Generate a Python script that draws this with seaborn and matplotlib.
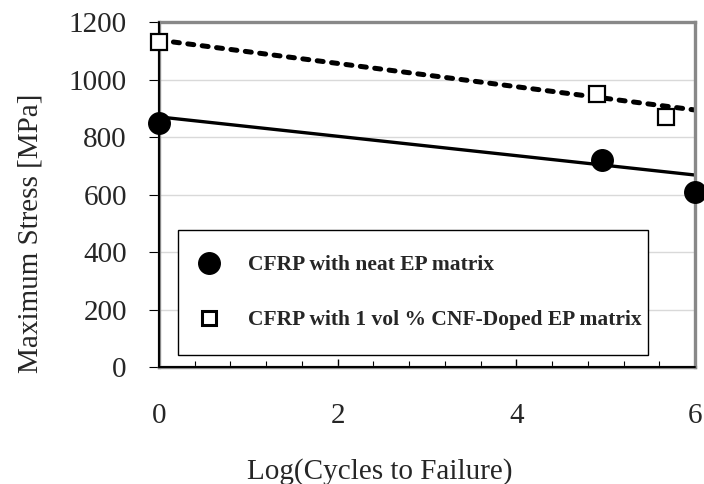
import numpy as np
import pandas as pd
import matplotlib
matplotlib.use("Agg")
import matplotlib.pyplot as plt
from matplotlib.lines import Line2D
from matplotlib.ticker import MultipleLocator
import seaborn as sns

# Fatigue data: log10(cycles to failure) vs. maximum stress
neat_log_cycles = [0.0, 4.96, 6.0]
neat_stress = [850, 720, 610]
cnf_log_cycles = [0.0, 4.9, 5.68]
cnf_stress = [1130, 950, 870]

# Linear S-N trend lines: (intercept, slope)
neat_trend = (870, -33.7)
cnf_trend = (1137, -40.5)

series_labels = ["CFRP with neat EP matrix",
                 "CFRP with 1 vol % CNF-Doped EP matrix"]
x_ticks = [0, 2, 4, 6]
y_ticks = [0, 200, 400, 600, 800, 1000, 1200]

sns.set_theme(style="white")
plt.rcParams["font.family"] = ["Liberation Serif", "DejaVu Serif"]

fig = plt.figure(figsize=(7.04, 4.84), dpi=100)
ax = fig.add_axes([0.2259, 0.2417, 0.7613, 0.7128])

xs = np.linspace(0, 6, 50)
trend_df = pd.DataFrame({
    "x": np.concatenate([xs, xs]),
    "y": np.concatenate([neat_trend[0] + neat_trend[1] * xs,
                         cnf_trend[0] + cnf_trend[1] * xs]),
    "s": [series_labels[0]] * len(xs) + [series_labels[1]] * len(xs),
})

sns.lineplot(data=trend_df[trend_df.s == series_labels[0]], x="x", y="y",
             color="black", lw=2.4, ax=ax, legend=False)
sns.lineplot(data=trend_df[trend_df.s == series_labels[1]], x="x", y="y",
             color="black", lw=3.6, ax=ax, legend=False)
dash_line = ax.lines[-1]
dash_line.set_dashes([1.2, 1.7])
dash_line.set_dash_capstyle("round")

ax.plot(neat_log_cycles, neat_stress, ls="none", marker="o", ms=15.5,
        mfc="black", mec="black", clip_on=False, zorder=5)
ax.plot(cnf_log_cycles, cnf_stress, ls="none", marker="s", ms=11.5,
        mfc="white", mec="black", mew=1.6, clip_on=False, zorder=5)

ax.set_xlim(0, 6)
ax.set_ylim(0, 1200)
ax.set_xticks(x_ticks)
ax.set_yticks(y_ticks)
ax.xaxis.set_minor_locator(MultipleLocator(0.4))

ax.yaxis.grid(True, color="#d9d9d9", lw=1.0)
ax.set_axisbelow(True)

for sp in ax.spines.values():
    sp.set_color("#888888")
    sp.set_linewidth(2.4)
ax.axhline(0, color="black", lw=1.4, zorder=4, clip_on=False)
ax.axvline(0, color="black", lw=1.4, zorder=4, clip_on=False)

ax.tick_params(axis="y", which="major", direction="out", length=7.2,
               width=0.8, color="black", pad=16, labelsize=21, left=True)
ax.tick_params(axis="x", which="major", direction="in", length=6,
               width=1.0, color="black", pad=26, labelsize=21, bottom=True)
ax.tick_params(axis="x", which="minor", direction="in", length=4,
               width=0.8, color="black", bottom=True)

ax.set_xlabel("Log(Cycles to Failure)", fontsize=21)
ax.set_ylabel("Maximum Stress [MPa]", fontsize=21)
ax.xaxis.set_label_coords(0.412, -0.265)
ax.yaxis.set_label_coords(-0.215, 0.388)

handles = [
    Line2D([], [], ls="none", marker="o", ms=15.5, mfc="black", mec="black"),
    Line2D([], [], ls="none", marker="s", ms=10, mfc="white", mec="black",
           mew=2.2),
]
leg = ax.legend(handles, series_labels, loc="lower left",
                bbox_to_anchor=(0.0354, 0.035, 0.877, 0.356), mode="expand",
                prop={"weight": "bold", "size": 15.5,
                      "family": ["Liberation Serif"]},
                frameon=True, fancybox=False, edgecolor="black",
                borderpad=1.15, labelspacing=1.62, handlelength=0.6,
                handletextpad=1.5, borderaxespad=0)
leg.get_frame().set_linewidth(1.0)
leg.get_frame().set_facecolor("white")
leg.get_frame().set_alpha(1.0)

fig.savefig("out.png", dpi=100)
